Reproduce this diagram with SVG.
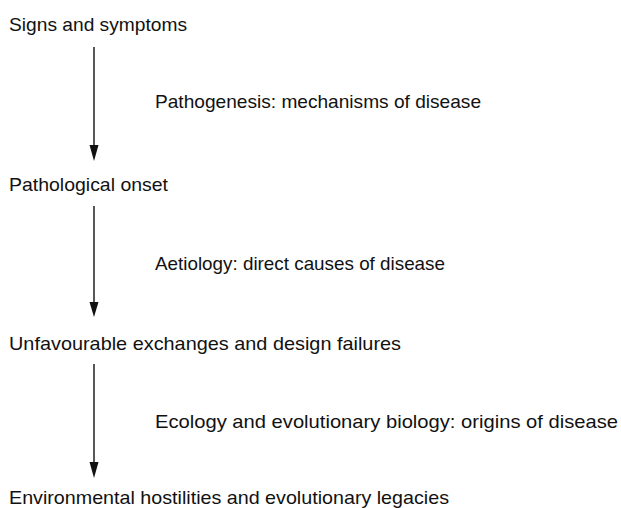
<svg xmlns="http://www.w3.org/2000/svg" width="621" height="508" viewBox="0 0 621 508">
<style>
text{font-family:"Liberation Sans",Arial,sans-serif;font-size:19px;fill:#111}
.c{stroke:#111;stroke-width:1.4;fill:none}
</style>
<rect width="621" height="508" fill="#fff"/>
<g id="n1"><text x="9" y="31" textLength="178" lengthAdjust="spacingAndGlyphs">Signs and symptoms</text></g>
<g id="n2"><text x="9" y="191" textLength="159" lengthAdjust="spacingAndGlyphs">Pathological onset</text></g>
<g id="n3"><text x="9" y="350" textLength="392" lengthAdjust="spacingAndGlyphs">Unfavourable exchanges and design failures</text></g>
<g id="n4"><text x="9" y="504" textLength="440" lengthAdjust="spacingAndGlyphs">Environmental hostilities and evolutionary legacies</text></g>
<g id="connectors">
<line class="c" x1="94" y1="47" x2="94" y2="146"/>
<path d="M89.5,145 L98.5,145 L94,161 Z" fill="#111"/>
<line class="c" x1="94" y1="206" x2="94" y2="303"/>
<path d="M89.5,302 L98.5,302 L94,317 Z" fill="#111"/>
<line class="c" x1="94" y1="364" x2="94" y2="463"/>
<path d="M89.5,462 L98.5,462 L94,478 Z" fill="#111"/>
</g>
<g id="labels">
<text x="155" y="108" textLength="326" lengthAdjust="spacingAndGlyphs">Pathogenesis: mechanisms of disease</text>
<text x="155" y="270" textLength="290" lengthAdjust="spacingAndGlyphs">Aetiology: direct causes of disease</text>
<text x="155" y="428" textLength="463" lengthAdjust="spacingAndGlyphs">Ecology and evolutionary biology: origins of disease</text>
</g>
</svg>
